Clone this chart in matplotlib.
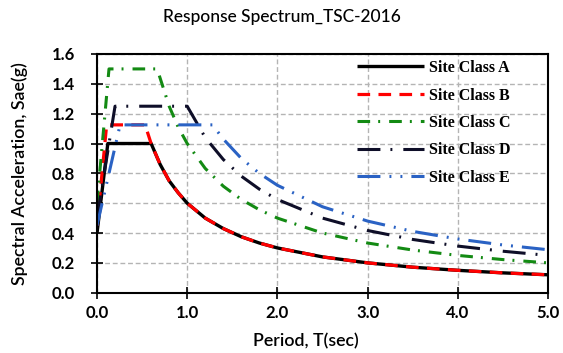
import matplotlib
matplotlib.use("Agg")
import matplotlib.pyplot as plt

# ---- data ----
period_A = [0.0, 0.12, 0.60, 0.70, 0.80, 0.90, 1.00, 1.20, 1.40, 1.60, 1.80, 2.00, 2.50, 3.00, 3.50, 4.00, 4.50, 5.00]
sae_A    = [0.40, 1.00, 1.00, 0.86, 0.75, 0.67, 0.60, 0.50, 0.43, 0.375, 0.333, 0.30, 0.24, 0.20, 0.171, 0.15, 0.133, 0.12]

period_B = [0.0, 0.107, 0.533, 0.60, 0.70, 0.80, 0.90, 1.00, 1.20, 1.40, 1.60, 1.80, 2.00, 2.50, 3.00, 3.50, 4.00, 4.50, 5.00]
sae_B    = [0.45, 1.125, 1.125, 1.00, 0.86, 0.75, 0.67, 0.60, 0.50, 0.43, 0.375, 0.333, 0.30, 0.24, 0.20, 0.171, 0.15, 0.133, 0.12]

period_C = [0.0, 0.133, 0.667, 0.80, 0.90, 1.00, 1.20, 1.40, 1.60, 1.80, 2.00, 2.50, 3.00, 3.50, 4.00, 4.50, 5.00]
sae_C    = [0.60, 1.50, 1.50, 1.25, 1.11, 1.00, 0.833, 0.714, 0.625, 0.556, 0.50, 0.40, 0.333, 0.286, 0.25, 0.222, 0.20]

period_D = [0.0, 0.20, 1.00, 1.20, 1.40, 1.60, 1.80, 2.00, 2.50, 3.00, 3.50, 4.00, 4.50, 5.00]
sae_D    = [0.50, 1.25, 1.25, 1.04, 0.893, 0.781, 0.694, 0.625, 0.50, 0.417, 0.357, 0.3125, 0.278, 0.25]

period_E = [0.0, 0.256, 1.28, 1.40, 1.60, 1.80, 2.00, 2.50, 3.00, 3.50, 4.00, 4.50, 5.00]
sae_E    = [0.45, 1.125, 1.125, 1.03, 0.90, 0.80, 0.72, 0.576, 0.48, 0.411, 0.36, 0.32, 0.288]

labels = ["Site Class A", "Site Class B", "Site Class C", "Site Class D", "Site Class E"]
x_ticks = [0.0, 1.0, 2.0, 3.0, 4.0, 5.0]
y_ticks = [0.0, 0.2, 0.4, 0.6, 0.8, 1.0, 1.2, 1.4, 1.6]

plt.rcParams['lines.scale_dashes'] = False

fig = plt.figure(figsize=(5.63, 3.53), dpi=100)
ax = fig.add_axes([97/563, 1-292.7/353, (548-97)/563, (292.7-54)/353])

series = [
    (period_A, sae_A, dict(color="black", lw=2.4, linestyle="-")),
    (period_B, sae_B, dict(color="#ff0000", lw=2.3, linestyle=(0, (9.1, 6.0)))),
    (period_C, sae_C, dict(color="#138a13", lw=2.2, linestyle=(0, (9.1, 5.8, 1.4, 6.5)))),
    (period_D, sae_D, dict(color="#0e0e28", lw=2.2, linestyle=(0, (16.5, 7.2, 1.4, 7.9)))),
    (period_E, sae_E, dict(color="#2a62c4", lw=2.2, linestyle=(0, (16.5, 6.5, 1.4, 6.5, 1.4, 6.5)))),
]
for (x, y, st), lab in zip(series, labels):
    ax.plot(x, y, label=lab, solid_capstyle="butt", dash_capstyle="butt", **st)

ax.set_xlim(0, 5)
ax.set_ylim(0, 1.6)
ax.set_xticks(x_ticks)
ax.set_yticks(y_ticks)
ax.set_xticklabels([f"{v:.1f}" for v in x_ticks], fontfamily="Lato", fontweight="bold", fontsize=12)
ax.set_yticklabels([f"{v:.1f}" for v in y_ticks], fontfamily="Lato", fontweight="bold", fontsize=12)
ax.tick_params(direction="inout", length=8, width=1.2, color="black")
ax.tick_params(axis="x", pad=5)
ax.tick_params(axis="y", pad=12)

ax.grid(True, color="#b4b4b4", linestyle=(0, (3.5, 2.0)), linewidth=1.0)
ax.set_axisbelow(True)
for s in ax.spines.values():
    s.set_linewidth(1.5)
    s.set_color("black")

xl = ax.set_xlabel("Period, T(sec)", fontfamily="Lato", fontsize=12.8, fontweight="semibold")
xl.set_va("center")
ax.xaxis.set_label_coords((306-97)/451, (292.7-341)/238.7)
yl = ax.set_ylabel("Spectral Acceleration, Sae(g)", fontfamily="Lato", fontsize=12.8, fontweight="semibold")
yl.set_va("center")
ax.yaxis.set_label_coords((20-97)/451, 0.5)

fig.text(0.5, 1-17/353, "Response Spectrum_TSC-2016", ha="center", va="center",
         fontfamily="Lato", fontsize=12.5, fontweight="medium")

leg = ax.legend(loc="upper left", bbox_to_anchor=((357-97)/451, (292.7-60)/238.7), frameon=False,
                prop=dict(family="Liberation Serif", weight="bold", size=11.5),
                handlelength=4.2, handletextpad=0.3, labelspacing=0.72,
                borderaxespad=0, borderpad=0)

fig.savefig("out.png", dpi=100)
